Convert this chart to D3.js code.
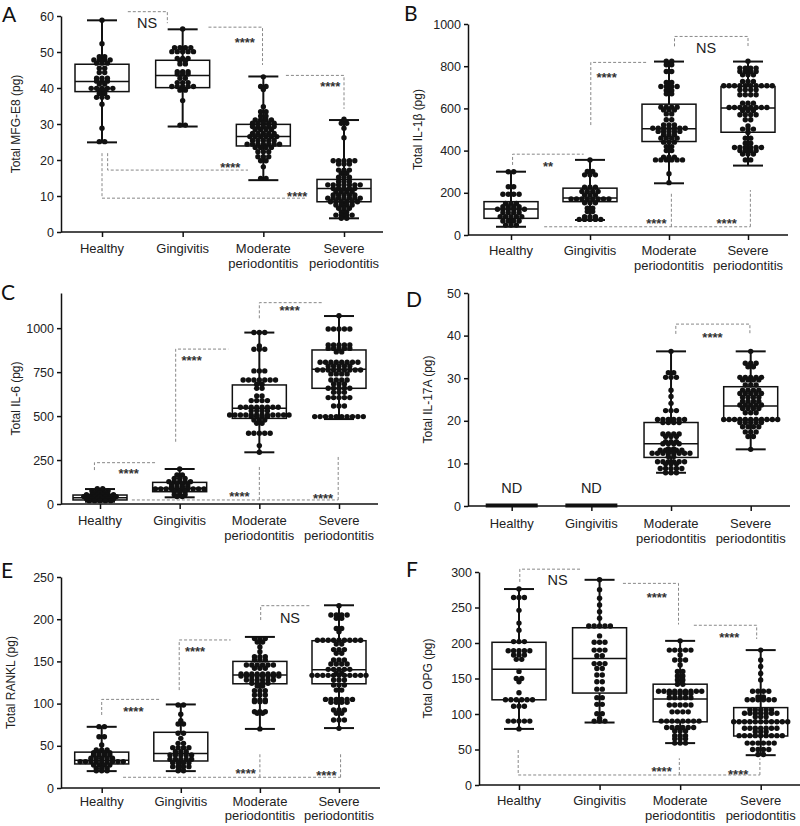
<html>
<head>
<meta charset="utf-8">
<script src="https://d3js.org/d3.v7.min.js"></script>
<style>
  body { margin: 0; background: #fff; }
  svg { font-family: "Liberation Sans", Arial, sans-serif; }
  .axis path, .axis line { stroke: #111; stroke-width: 1.5px; }
  .axis text { font-size: 12.5px; fill: #222; }
  .cat { font-size: 13px; fill: #222; text-anchor: middle; }
  .ytitle { font-size: 12px; fill: #222; text-anchor: middle; }
  .letter { font-family: Lato, "Open Sans", sans-serif; font-size: 21px; fill: #111; }
  .bracket { fill: none; stroke: #888; stroke-width: 1; stroke-dasharray: 3,2; }
  .stars { font-size: 13px; fill: #333; text-anchor: middle; font-weight: bold; }
  .ns { font-size: 14.5px; fill: #222; text-anchor: middle; }
</style>
</head>
<body>
<svg id="chart" width="800" height="826"></svg>
<script>
const categories = ['Healthy', 'Gingivitis', 'Moderate periodontitis', 'Severe periodontitis'];

// y tick values per panel
const mfgTicks = [0, 10, 20, 30, 40, 50, 60];
const il1bTicks = [0, 200, 400, 600, 800, 1000];
const il6Ticks = [0, 250, 500, 750, 1000];
const il17Ticks = [0, 10, 20, 30, 40, 50];
const ranklTicks = [0, 50, 100, 150, 200, 250];
const opgTicks = [0, 50, 100, 150, 200, 250, 300];

// box stats: [min, q1, median, q3, max]
const mfgBoxes = [[24.9, 39.0, 41.8, 46.6, 58.8], [29.3, 40.1, 43.5, 47.7, 56.3], [14.4, 23.9, 26.5, 29.9, 43.2], [3.8, 8.4, 12.1, 14.6, 31.1]];
const il1bBoxes = [[39, 79, 123, 158, 300], [71, 158, 175, 222, 356], [245, 443, 503, 620, 822], [329, 487, 602, 704, 822]];
const il6Boxes = [[13, 23, 36, 51, 85], [38, 70, 90, 123, 199], [294, 487, 544, 677, 975], [483, 658, 766, 876, 1069]];
const il17Boxes = [[0, 0, 0, 0, 0], [0, 0, 0, 0, 0], [7.8, 11.4, 14.6, 19.6, 36.3], [13.3, 20.2, 23.5, 28.0, 36.3]];
const ranklBoxes = [[20, 28.5, 33, 42.5, 72.5], [20, 32, 41, 66, 99], [70, 123.5, 134, 150, 179], [71, 123.5, 140, 174.5, 216.5]];
const opgBoxes = [[79, 120, 163, 201, 276], [88, 129.5, 178, 221.5, 289], [59, 89, 121, 142, 203], [42, 69, 89, 109, 190]];

// individual samples
const mfgPoints = [
  [58.8, 52.3, 48.7, 48.7, 47.8, 47.8, 47.8, 47.8, 46.9, 46.9, 46.9, 45.5, 45.5, 44.3, 44.3, 42.7, 42.7, 42.7, 41.9, 41.9, 41.9, 41.1, 41.1, 39.9, 39.9, 39.9, 39.9, 39.9, 39.4, 39.4, 38.5, 38.5, 37.4, 37.4, 37.4, 35.5, 28.8, 25.1, 25.1],
  [56.4, 51.2, 51.2, 51.2, 51.2, 50.1, 50.1, 50.1, 50.1, 50.1, 48.2, 48.2, 48.2, 47.6, 47.6, 46.7, 46.7, 44.5, 44.5, 44.5, 43.9, 43.9, 43.9, 42.7, 42.7, 41.5, 41.5, 41.5, 40.4, 40.4, 40.4, 40.4, 40.4, 39.4, 39.4, 36.5, 29.7, 29.7],
  [43.1, 40.4, 40.4, 39.6, 34.8, 33.4, 33.4, 32.2, 32.2, 31.1, 31.1, 31.1, 31.1, 30.2, 30.2, 30.2, 30.2, 30.2, 29.3, 29.3, 29.3, 29.3, 29.3, 28.5, 28.5, 28.5, 28.5, 27.4, 27.4, 27.4, 27.4, 27.4, 26.5, 26.5, 26.5, 26.5, 26.5, 26.5, 25.4, 25.4, 25.4, 25.4, 25.4, 24.4, 24.4, 24.4, 24.4, 24.4, 24.4, 24.4, 23.5, 23.5, 23.5, 23.5, 22.3, 22.3, 22.3, 20.9, 20.9, 20.9, 19.8, 19.8, 18.1, 14.9, 14.9],
  [31.3, 30.2, 30.2, 28.8, 26.2, 19.8, 19.8, 19.8, 19.8, 19.8, 18.9, 18.9, 18.9, 17.2, 17.2, 17.2, 16.3, 16.3, 15.2, 15.2, 15.2, 14.0, 14.0, 14.0, 13.1, 13.1, 13.1, 13.1, 13.1, 13.1, 13.1, 12.1, 12.1, 12.1, 12.1, 12.1, 11.2, 11.2, 11.2, 11.2, 10.3, 10.3, 10.3, 10.3, 10.3, 9.4, 9.4, 9.4, 9.4, 9.4, 9.4, 9.4, 8.4, 8.4, 8.4, 8.4, 8.4, 8.4, 7.5, 7.5, 7.5, 7.5, 6.6, 6.6, 6.6, 5.6, 5.6, 4.7, 4.7, 4.7, 4.7, 3.8, 3.8]
];
const il1bPoints = [
  [300, 300, 229, 229, 193, 193, 193, 193, 150, 150, 150, 134, 134, 134, 134, 122, 122, 122, 122, 122, 122, 106, 106, 106, 106, 87, 87, 87, 87, 87, 66, 66, 66, 66, 47, 47, 47],
  [356, 301, 301, 285, 285, 285, 226, 226, 226, 206, 206, 206, 206, 190, 190, 190, 171, 171, 171, 171, 171, 171, 171, 171, 153, 153, 153, 127, 127, 111, 111, 87, 87, 87, 74, 74, 74, 74, 74],
  [824, 824, 807, 807, 775, 775, 723, 723, 704, 704, 704, 704, 685, 685, 669, 669, 606, 606, 606, 606, 593, 593, 593, 574, 574, 546, 546, 522, 522, 522, 506, 506, 506, 506, 506, 506, 506, 491, 491, 491, 491, 491, 475, 475, 475, 459, 459, 459, 459, 440, 440, 440, 419, 419, 400, 400, 369, 369, 369, 356, 356, 356, 356, 356, 356, 290, 248],
  [824, 791, 791, 791, 791, 775, 775, 775, 775, 759, 759, 759, 728, 728, 728, 707, 707, 707, 707, 707, 707, 707, 707, 707, 707, 688, 688, 688, 688, 665, 665, 665, 665, 625, 625, 625, 604, 604, 604, 604, 604, 604, 604, 604, 590, 590, 590, 570, 570, 570, 570, 546, 546, 517, 502, 502, 502, 486, 459, 459, 435, 435, 415, 415, 415, 415, 415, 415, 400, 400, 400, 400, 384, 384, 384, 356, 356]
];
const il6Points = [
  [87, 87, 76, 76, 76, 76, 64, 64, 64, 53, 53, 53, 53, 53, 53, 42, 42, 42, 42, 42, 42, 42, 30, 30, 30, 30, 30, 30, 19, 19, 19, 19, 19],
  [199, 165, 165, 146, 146, 146, 127, 127, 127, 127, 127, 114, 114, 114, 114, 99, 99, 99, 99, 85, 85, 85, 85, 85, 85, 85, 85, 85, 85, 70, 70, 70, 53, 53, 53, 42, 42],
  [975, 975, 975, 899, 880, 880, 880, 757, 757, 757, 705, 705, 705, 705, 705, 705, 705, 681, 681, 658, 658, 614, 614, 588, 588, 588, 588, 550, 550, 550, 550, 550, 550, 550, 550, 531, 531, 531, 531, 506, 506, 506, 506, 506, 506, 506, 506, 506, 506, 506, 506, 497, 497, 497, 497, 478, 478, 478, 459, 459, 402, 402, 402, 402, 402, 332, 294],
  [1071, 995, 995, 995, 995, 995, 904, 904, 904, 904, 904, 885, 885, 885, 885, 885, 865, 865, 806, 806, 806, 806, 806, 806, 806, 806, 785, 785, 785, 785, 785, 762, 762, 762, 762, 762, 762, 762, 762, 762, 740, 740, 740, 740, 705, 705, 705, 705, 683, 683, 683, 658, 658, 658, 658, 658, 635, 635, 635, 605, 605, 605, 605, 605, 557, 557, 557, 497, 497, 497, 497, 497, 497, 497, 497, 497, 497]
];
const il17Points = [
  [],
  [],
  [36.3, 31.3, 31.3, 30.2, 30.2, 30.2, 27.2, 25.7, 24.1, 22.4, 22.4, 22.4, 20.3, 20.3, 20.3, 20.3, 20.3, 20.3, 19.6, 19.6, 19.6, 19.6, 16.9, 16.9, 16.9, 16.9, 16.3, 16.3, 16.3, 15.1, 15.1, 15.1, 14.6, 14.6, 14.6, 14.6, 13.4, 13.4, 13.1, 13.1, 13.1, 13.1, 13.1, 12.4, 12.4, 12.4, 12.4, 12.4, 12.4, 12.4, 12.4, 11.6, 11.6, 10.4, 10.4, 10.4, 10.4, 10.4, 10.4, 9.9, 9.9, 9.9, 8.8, 8.8, 8.8, 8.8, 8.8, 7.8, 7.8, 7.8],
  [36.3, 33.5, 33.5, 33.5, 32.7, 32.7, 30.2, 30.2, 30.2, 30.2, 30.2, 29.6, 29.6, 29.6, 29.6, 28.4, 28.4, 28.4, 27.2, 27.2, 27.2, 27.2, 26.4, 26.4, 26.4, 26.4, 26.4, 25.5, 25.5, 25.5, 25.5, 24.6, 24.6, 24.6, 24.6, 23.7, 23.7, 23.7, 23.7, 23.7, 22.9, 22.9, 22.9, 22.9, 21.9, 21.9, 21.9, 20.3, 20.3, 20.3, 20.3, 20.3, 20.3, 20.3, 20.3, 20.3, 20.3, 20.3, 19.6, 19.6, 19.6, 19.6, 19.6, 18.6, 18.6, 18.6, 18.6, 17.4, 17.4, 17.4, 16.3, 16.3, 13.3]
];
const ranklPoints = [
  [72.7, 72.7, 60.8, 60.8, 50.9, 45.0, 45.0, 45.0, 41.9, 41.9, 41.9, 41.9, 39.1, 39.1, 39.1, 39.1, 35.2, 35.2, 35.2, 35.2, 35.2, 31.2, 31.2, 31.2, 31.2, 31.2, 31.2, 31.2, 31.2, 31.2, 27.3, 27.3, 27.3, 27.3, 23.3, 23.3, 23.3, 20.5, 20.5, 20.5],
  [98.3, 98.3, 87.3, 79.8, 75.8, 75.8, 64.8, 64.8, 58.8, 52.9, 52.9, 47.8, 47.8, 47.8, 47.8, 43.0, 43.0, 43.0, 39.1, 39.1, 39.1, 39.1, 39.1, 34.0, 34.0, 34.0, 34.0, 34.0, 30.0, 30.0, 30.0, 30.0, 25.3, 25.3, 25.3, 25.3, 20.5, 20.5],
  [177, 177, 177, 173, 173, 167, 161.5, 155.6, 155.6, 155.6, 151.7, 151.7, 151.7, 145.7, 145.7, 145.7, 145.7, 145.7, 145.7, 141.8, 141.8, 141.8, 135, 135, 135, 135, 135, 135, 135, 135, 132.7, 132.7, 132.7, 132.7, 132.7, 132.7, 132.7, 132.7, 128, 128, 128, 128, 128, 128, 124, 124, 124, 124, 120.9, 120.9, 115.3, 115.3, 115.3, 110.2, 110.2, 110.2, 104.3, 104.3, 104.3, 102.3, 102.3, 102.3, 90.4, 90.4, 90.4, 88.5, 88.5, 70],
  [216, 205, 205, 205, 205, 201, 201, 189, 189, 185, 175, 175, 175, 175, 175, 175, 175, 175, 175, 170.6, 170.6, 164, 164, 164, 159.6, 159.6, 151.7, 151.7, 151.7, 147, 147, 147, 147, 140.6, 140.6, 140.6, 140.6, 140.6, 135.9, 135.9, 133.5, 133.5, 133.5, 133.5, 133.5, 133.5, 133.5, 133.5, 133.5, 133.5, 133.5, 128, 128, 128, 122, 122, 122, 116, 116, 105, 105, 105, 105, 105, 105, 101.5, 101.5, 101.5, 101.5, 92.4, 92.4, 92.4, 88.5, 88.5, 80.6, 80.6, 80.6, 70.7]
];
const opgPoints = [
  [276, 264, 264, 264, 246, 228, 218, 202, 202, 202, 189, 189, 189, 189, 189, 183, 183, 183, 177, 177, 160, 150, 150, 145.5, 130, 120, 120, 120, 120, 120, 120, 111, 111, 111, 90, 90, 90, 90, 90, 79],
  [289, 275, 263, 253.5, 244, 235, 224, 224, 224, 224, 224, 210, 201, 201, 201, 190, 190, 190, 182, 182, 171, 171, 171, 164, 164, 155, 155, 145.5, 145.5, 135, 135, 123, 123, 113.6, 113.6, 100.5, 100.5, 94, 90, 90, 90],
  [203, 190, 190, 190, 190, 190, 183, 176, 176, 176, 169, 160, 160, 153.5, 153.5, 148, 148, 142, 142, 132, 132, 132, 132, 132, 132, 132, 132, 132, 129, 129, 129, 129, 129, 123, 123, 123, 123, 123, 112.7, 112.7, 112.7, 112.7, 112.7, 103, 103, 103, 103, 90, 90, 90, 90, 90, 90, 90, 90, 81, 81, 81, 81, 81, 81, 76, 76, 76, 69.5, 69.5, 69.5, 65, 65, 65, 59, 59, 59],
  [190, 176, 167, 157, 148, 132, 132, 132, 132, 124, 124, 120, 120, 120, 120, 120, 120, 106, 106, 106, 106, 106, 101, 101, 101, 101, 101, 101, 101, 96, 96, 96, 89, 89, 89, 89, 89, 89, 89, 89, 89, 89, 89, 80, 80, 80, 80, 80, 80, 80, 75, 75, 75, 69.5, 69.5, 69.5, 69.5, 69.5, 69.5, 69.5, 69.5, 69.5, 59, 59, 59, 59, 59, 59, 50, 50, 50, 50, 43, 43]
];

// comparison brackets: polylines of [category position, value]
const mfgBrackets = [[[0.32, 61.2], [0.81, 61.2], [0.81, 58]], [[1.32, 56.9], [1.99, 56.9], [1.99, 46.4]], [[2.28, 43.5], [3.0, 43.5], [3.0, 34.2]],
  [[0.07, 21.9], [0.07, 17.2], [1.81, 17.2]], [[0.0, 21.9], [0.0, 9.4], [2.53, 9.4]]];
const mfgSig = [[0.56, 58.1, 'NS'], [1.77, 53.6, '****'], [2.83, 41.4, '****'], [1.59, 18.9, '****'], [2.42, 10.8, '****']];
const il1bBrackets = [[[0.02, 332], [0.02, 383], [0.92, 383]], [[1.01, 521], [1.01, 818], [1.72, 818]], [[2.07, 894], [2.07, 941], [3.0, 941], [3.0, 894]],
  [[0.42, 39], [3.03, 39]], [[2.03, 39], [2.03, 200]], [[3.03, 39], [3.03, 213]]];
const il1bSig = [[0.47, 342, '**'], [1.21, 764, '****'], [2.47, 887, 'NS'], [1.84, 71, '****'], [2.73, 71, '****']];
const il6Brackets = [[[-0.07, 193], [-0.07, 235], [0.71, 235]], [[0.95, 354], [0.95, 881], [1.61, 881]], [[2.0, 1056], [2.0, 1145], [2.8, 1145]],
  [[0.4, 23], [2.99, 23]], [[2.0, 23], [2.0, 222]], [[2.99, 23], [2.99, 273]]];
const il6Sig = [[0.36, 193, '****'], [1.15, 834, '****'], [2.38, 1117, '****'], [1.75, 64, '****'], [2.8, 51, '****']];
const il17Brackets = [[[2.06, 40.4], [2.06, 42.7], [2.99, 42.7], [2.99, 40.4]]];
const il17Sig = [[2.52, 40.4, '****'], [0, 4.2, 'ND'], [1, 4.2, 'ND']];
const ranklBrackets = [[[0, 86.5], [0, 105], [0.75, 105]], [[0.98, 116], [0.98, 175.4], [1.63, 175.4]], [[2.01, 199], [2.01, 216], [2.65, 216]],
  [[0.27, 12.7], [3.02, 12.7]], [[2.0, 12.7], [2.0, 41.1]], [[3.02, 12.7], [3.02, 42.3]]];
const ranklSig = [[0.4, 95, '****'], [1.18, 166, '****'], [2.38, 202, 'NS'], [1.82, 21.3, '****'], [2.84, 18.6, '****']];
const opgBrackets = [[[0.01, 286], [0.01, 304], [0.76, 304]], [[1.29, 284], [1.98, 284], [1.98, 226]], [[2.17, 225], [2.95, 225], [2.95, 205.6]],
  [[-0.01, 49.3], [-0.01, 14.1], [2.99, 14.1]], [[1.99, 14.1], [1.99, 37.6]], [[2.99, 14.1], [2.99, 37.6]]];
const opgSig = [[0.48, 289, 'NS'], [1.71, 269, '****'], [2.61, 212, '****'], [1.77, 23.5, '****'], [2.72, 20, '****']];

// layout of the six panels
const panels = [
  { letter: 'A', lx: 2, ly: 22, title: 'Total MFG-E8 (pg)', tx: 20, ticks: mfgTicks, yMax: 60, boxes: mfgBoxes, points: mfgPoints, brackets: mfgBrackets, sig: mfgSig,
    left: 61, right: 383, top: 16, bottom: 232, first: 102, last: 344, catOff: 21 },
  { letter: 'B', lx: 404, ly: 21, title: 'Total IL-1\u03b2 (pg)', tx: 422, ticks: il1bTicks, yMax: 1000, boxes: il1bBoxes, points: il1bPoints, brackets: il1bBrackets, sig: il1bSig,
    left: 468, right: 788, top: 24, bottom: 235, first: 511, last: 748, catOff: 20 },
  { letter: 'C', lx: 1, ly: 300, title: 'Total IL-6 (pg)', tx: 20, ticks: il6Ticks, yMax: 1200, boxes: il6Boxes, points: il6Points, brackets: il6Brackets, sig: il6Sig,
    left: 61, right: 378, top: 293, bottom: 504, first: 100, last: 339, catOff: 21 },
  { letter: 'D', lx: 406, ly: 307, title: 'Total IL-17A (pg)', tx: 432, ticks: il17Ticks, yMax: 50, boxes: il17Boxes, points: il17Points, brackets: il17Brackets, sig: il17Sig,
    left: 468, right: 790, top: 293, bottom: 506, first: 511.7, last: 750.7, catOff: 22 },
  { letter: 'E', lx: 1, ly: 578, title: 'Total RANKL (pg)', tx: 15, ticks: ranklTicks, yMax: 250, boxes: ranklBoxes, points: ranklPoints, brackets: ranklBrackets, sig: ranklSig,
    left: 61, right: 380, top: 577, bottom: 788, first: 101.7, last: 339, catOff: 17.5 },
  { letter: 'F', lx: 406, ly: 577, title: 'Total OPG (pg)', tx: 432, ticks: opgTicks, yMax: 300, boxes: opgBoxes, points: opgPoints, brackets: opgBrackets, sig: opgSig,
    left: 479, right: 800, top: 572, bottom: 785, first: 519, last: 760.7, catOff: 20 }
];

const svg = d3.select('#chart');
const boxW = 54, capW = 30, dotR = 2.7, dotGap = 5.4;

panels.forEach(p => {
  const g = svg.append('g');
  const x = d3.scalePoint().domain(categories).range([p.first, p.last]);
  const y = d3.scaleLinear().domain([0, p.yMax]).range([p.bottom, p.top]);
  const step = x.step();
  const fx = f => p.first + f * step;

  g.append('text').attr('class', 'letter').attr('x', p.lx).attr('y', p.ly).text(p.letter);

  // y axis
  g.append('g').attr('class', 'axis')
    .attr('transform', `translate(${p.left},0)`)
    .call(d3.axisLeft(y).tickValues(p.ticks).tickFormat(d3.format('d')).tickSize(4).tickSizeOuter(0).tickPadding(3));

  g.append('text').attr('class', 'ytitle')
    .attr('transform', `translate(${p.tx},${(p.top + p.bottom) / 2}) rotate(-90)`)
    .text(p.title);

  // x axis
  const xa = g.append('g').attr('class', 'axis')
    .attr('transform', `translate(0,${p.bottom})`)
    .call(d3.axisBottom(x).tickSize(5).tickFormat(''));
  xa.select('.domain').remove();
  xa.append('line').attr('x1', p.left).attr('x2', p.right).attr('y1', 0).attr('y2', 0);

  categories.forEach(c => {
    const words = c.split(' ');
    const t = g.append('text').attr('class', 'cat').attr('x', x(c)).attr('y', p.bottom + p.catOff);
    words.forEach((w, i) => t.append('tspan').attr('x', x(c)).attr('dy', i ? 14.5 : 0).text(w));
  });

  // brackets
  g.selectAll('path.bracket').data(p.brackets).join('path')
    .attr('class', 'bracket')
    .attr('d', d => d3.line().x(q => fx(q[0])).y(q => y(q[1]))(d));

  g.selectAll('text.sig').data(p.sig).join('text')
    .attr('class', d => d[2].startsWith('*') ? 'sig stars' : 'sig ns')
    .attr('x', d => fx(d[0]))
    .attr('y', d => y(d[1]))
    .attr('dy', d => d[2].startsWith('*') ? '0.6em' : '0.35em')
    .text(d => d[2]);

  // boxes
  p.boxes.forEach((b, i) => {
    const cx = x(categories[i]);
    const bg = g.append('g');
    const [mn, q1, md, q3, mx] = b;
    if (mx === 0) {
      bg.append('rect').attr('x', cx - boxW / 2 + 1).attr('y', y(0) - 2.5)
        .attr('width', boxW - 2).attr('height', 4).attr('fill', '#111');
      return;
    }
    const ln = (x1, y1, x2, y2, w) => bg.append('line')
      .attr('x1', x1).attr('y1', y1).attr('x2', x2).attr('y2', y2)
      .attr('stroke', '#111').attr('stroke-width', w);
    ln(cx, y(mx), cx, y(q3), 2);
    ln(cx, y(q1), cx, y(mn), 2);
    ln(cx - capW / 2, y(mx), cx + capW / 2, y(mx), 2);
    ln(cx - capW / 2, y(mn), cx + capW / 2, y(mn), 2);
    bg.append('rect').attr('x', cx - boxW / 2).attr('y', y(q3))
      .attr('width', boxW).attr('height', y(q1) - y(q3))
      .attr('fill', 'none').attr('stroke', '#111').attr('stroke-width', 1.5);
    ln(cx - boxW / 2, y(md), cx + boxW / 2, y(md), 1.5);
  });

  // dots, rows of equal values spread sideways
  p.points.forEach((vals, i) => {
    const cx = x(categories[i]);
    const rows = d3.groups(vals, v => v);
    const dots = [];
    rows.forEach(([v, arr]) => {
      arr.forEach((_, k) => dots.push({ x: cx + (k - (arr.length - 1) / 2) * dotGap, y: y(v) }));
    });
    g.append('g').selectAll('circle').data(dots).join('circle')
      .attr('cx', d => d.x).attr('cy', d => d.y).attr('r', dotR).attr('fill', '#111');
  });
});
</script>
</body>
</html>
